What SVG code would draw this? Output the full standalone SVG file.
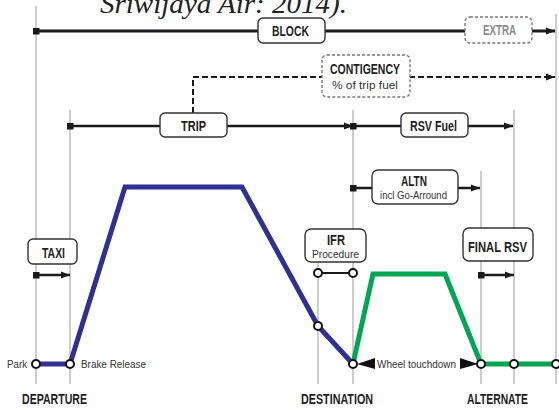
<svg xmlns="http://www.w3.org/2000/svg" width="559" height="410" viewBox="0 0 559 410">
<defs>
<marker id="arr" markerUnits="userSpaceOnUse" markerWidth="10" markerHeight="8" refX="9" refY="4" orient="auto"><path d="M0,0.5 L9,4 L0,7.5 Z" fill="#1a1a1a"/></marker>
<marker id="sq" markerUnits="userSpaceOnUse" markerWidth="7" markerHeight="7" refX="3.5" refY="3.5" orient="auto"><rect x="0" y="0" width="7" height="7" fill="#1a1a1a"/></marker>
<marker id="circ" markerUnits="userSpaceOnUse" markerWidth="12" markerHeight="12" refX="6" refY="6"><circle cx="6" cy="6" r="4" fill="#fff" stroke="#111" stroke-width="2"/></marker>
</defs>
<style>
.g{stroke:#bdbdbd;stroke-width:1.5;fill:none}
.ln{stroke:#1a1a1a;fill:none}
.box{fill:#fff;stroke:#333;stroke-width:1.4}
.dbox{fill:#fff;stroke:#777;stroke-width:1.4;stroke-dasharray:3,2}
.b{font-family:"Liberation Sans",Arial,sans-serif;font-weight:bold;font-size:14px;fill:#1e1e1e;text-anchor:middle}
.s{font-family:"Liberation Sans",Arial,sans-serif;font-size:11.5px;fill:#333;text-anchor:middle}
.pt{fill:#fff;stroke:#111;stroke-width:2}
</style>
<rect width="559" height="410" fill="#fff"/>
<text x="100" y="13" font-family="Liberation Serif,serif" font-style="italic" font-size="28" fill="#222" textLength="247" lengthAdjust="spacingAndGlyphs">Sriwijaya Air: 2014).</text>

<g id="gridlines">
<line class="g" x1="36" y1="6" x2="36" y2="384"/>
<line class="g" x1="70" y1="110" x2="70" y2="384"/>
<line class="g" x1="318" y1="262" x2="318" y2="384"/>
<line class="g" x1="353" y1="110" x2="353" y2="384"/>
<line class="g" x1="481" y1="171" x2="481" y2="384"/>
<line class="g" x1="514" y1="110" x2="514" y2="384"/>
<line class="g" x1="556" y1="14" x2="556" y2="384"/>
</g>

<g id="connectors">
<line class="ln" stroke-width="3" x1="36" y1="31" x2="555" y2="31" marker-start="url(#sq)" marker-end="url(#arr)"/>
<polyline class="ln" stroke-width="2" stroke-dasharray="6,3" points="193,113 193,77 555,77" marker-end="url(#arr)"/>
<line class="ln" stroke-width="2.5" x1="70" y1="126" x2="353" y2="126" marker-start="url(#sq)" marker-end="url(#arr)"/>
<line class="ln" stroke-width="2.5" x1="353" y1="126" x2="513" y2="126" marker-start="url(#sq)" marker-end="url(#arr)"/>
<line class="ln" stroke-width="2.5" x1="353" y1="188" x2="480" y2="188" marker-start="url(#sq)" marker-end="url(#arr)"/>
<line class="ln" stroke-width="2.5" x1="36" y1="275" x2="70" y2="275" marker-start="url(#sq)" marker-end="url(#arr)"/>
<line class="ln" stroke-width="2.5" x1="481" y1="275" x2="514" y2="275" marker-start="url(#sq)" marker-end="url(#arr)"/>
<line class="ln" stroke-width="2" x1="318" y1="273" x2="353" y2="273" marker-start="url(#circ)" marker-end="url(#circ)"/>
</g>

<g id="profile">
<polyline points="36,364 70,364 125,187 242,187 318,326 353,364" fill="none" stroke="#2e3192" stroke-width="5" stroke-linejoin="miter"/>
<polyline points="353,364 373,274 445,274 481,364 556,364" fill="none" stroke="#00a651" stroke-width="5" stroke-linejoin="miter"/>
<circle class="pt" cx="36" cy="364" r="4"/>
<circle class="pt" cx="70" cy="364" r="4"/>
<circle class="pt" cx="318" cy="326" r="4"/>
<circle class="pt" cx="353" cy="364" r="4"/>
<circle class="pt" cx="481" cy="364" r="4"/>
<circle class="pt" cx="514" cy="364" r="4"/>
<circle class="pt" cx="556" cy="364" r="4"/>
</g>

<g id="block"><rect class="box" x="258" y="18" width="67" height="25" rx="5"/><text class="b" x="290.5" y="36" textLength="37" lengthAdjust="spacingAndGlyphs">BLOCK</text></g>
<g id="extra"><rect class="dbox" x="465" y="17" width="67" height="26" rx="5"/><text class="b" x="499.5" y="35" style="fill:#8a8a8a" textLength="33" lengthAdjust="spacingAndGlyphs">EXTRA</text></g>
<g id="contigency"><rect class="dbox" x="322" y="55" width="88" height="42" rx="5"/><text class="b" x="365" y="74" textLength="70" lengthAdjust="spacingAndGlyphs">CONTIGENCY</text><text class="s" x="365" y="89" textLength="66" lengthAdjust="spacingAndGlyphs">% of trip fuel</text></g>
<g id="trip"><rect class="box" x="160" y="113" width="67" height="24" rx="5"/><text class="b" x="193.5" y="131" textLength="25" lengthAdjust="spacingAndGlyphs">TRIP</text></g>
<g id="rsvfuel"><rect class="box" x="401" y="113" width="67" height="24" rx="5"/><text class="b" x="433.5" y="131" textLength="47" lengthAdjust="spacingAndGlyphs">RSV Fuel</text></g>
<g id="altn"><rect class="box" x="372" y="170" width="86" height="34" rx="6"/><text class="b" x="414" y="186" textLength="26" lengthAdjust="spacingAndGlyphs">ALTN</text><text class="s" x="413.5" y="199" textLength="67" lengthAdjust="spacingAndGlyphs">incl Go-Arround</text></g>
<g id="taxi"><rect class="box" x="28" y="239" width="49" height="25" rx="5"/><text class="b" x="53.5" y="258" textLength="23" lengthAdjust="spacingAndGlyphs">TAXI</text></g>
<g id="ifr"><rect class="box" x="305" y="229" width="61" height="33" rx="6"/><text class="b" x="336" y="245" textLength="18" lengthAdjust="spacingAndGlyphs">IFR</text><text class="s" x="335.5" y="258" textLength="47" lengthAdjust="spacingAndGlyphs">Procedure</text></g>
<g id="finalrsv"><rect class="box" x="463" y="228" width="70" height="33" rx="6"/><text class="b" x="497.5" y="252" textLength="59" lengthAdjust="spacingAndGlyphs">FINAL RSV</text></g>

<g id="labels">
<text class="s" x="17" y="368" textLength="20" lengthAdjust="spacingAndGlyphs">Park</text>
<text class="s" x="113.5" y="368" textLength="65" lengthAdjust="spacingAndGlyphs">Brake Release</text>
<path d="M357,364 L375,358 L375,369 Z" fill="#111"/>
<path d="M478,364 L460,358 L460,369 Z" fill="#111"/>
<text class="s" x="416.5" y="368" textLength="79" lengthAdjust="spacingAndGlyphs">Wheel touchdown</text>
<text class="b" x="54.5" y="404" textLength="65" lengthAdjust="spacingAndGlyphs">DEPARTURE</text>
<text class="b" x="337" y="404" textLength="72" lengthAdjust="spacingAndGlyphs">DESTINATION</text>
<text class="b" x="497.5" y="404" textLength="61" lengthAdjust="spacingAndGlyphs">ALTERNATE</text>
</g>
</svg>
